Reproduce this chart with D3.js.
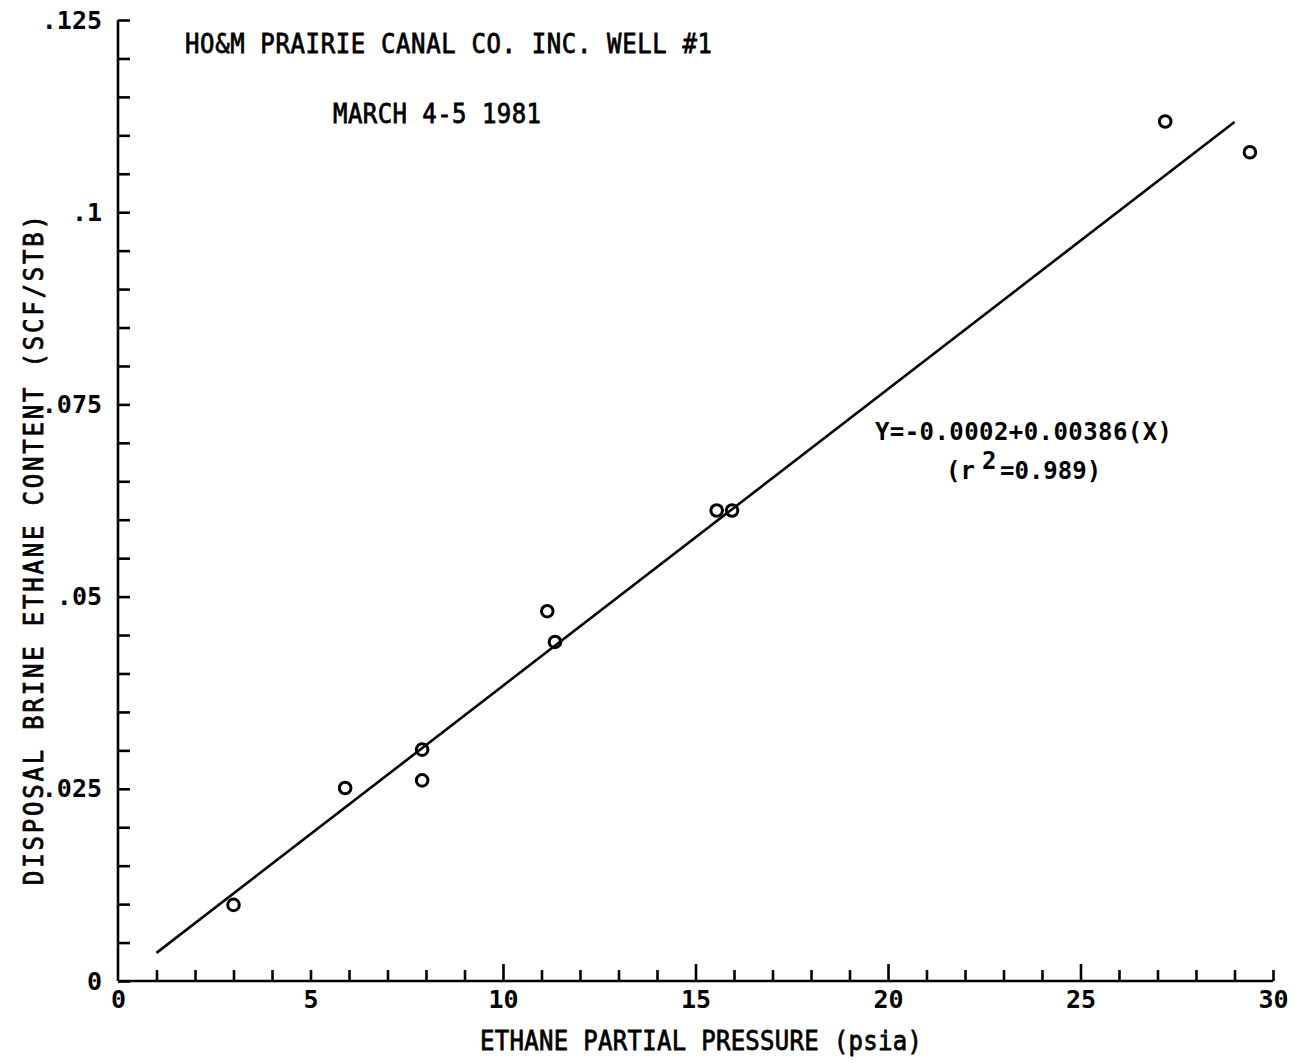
<!DOCTYPE html>
<html>
<head>
<meta charset="utf-8">
<script src="https://cdn.jsdelivr.net/npm/d3@7"></script>
<style>
  html, body { margin: 0; padding: 0; background: #fff; }
  svg { display: block; }
  text { font-family: "DejaVu Sans Mono", "Liberation Mono", monospace; fill: #000; }
</style>
</head>
<body>
<svg id="chart" width="1297" height="1063"></svg>
<script>
// Ethane partial pressure (psia) vs. disposal brine ethane content (SCF/STB)
const pressure = [3.0, 5.9, 7.9, 7.9, 11.15, 11.35, 15.55, 15.95, 27.2, 29.4];
const ethane   = [0.0099, 0.0251, 0.0301, 0.0261, 0.0481, 0.0441, 0.0612, 0.0612, 0.1118, 0.1078];

// Least-squares fit reported on the plot
const fitIntercept = -0.0002;
const fitSlope = 0.00386;
const fitRange = [1, 29];

const xLabelTicks = [0, 5, 10, 15, 20, 25, 30];
const xLabelText  = ["0", "5", "10", "15", "20", "25", "30"];
const yLabelTicks = [0, 0.025, 0.05, 0.075, 0.1, 0.125];
const yLabelText  = ["0", ".025", ".05", ".075", ".1", ".125"];

const titleLines = ["HO&M PRAIRIE CANAL CO. INC. WELL #1", "MARCH 4-5 1981"];
const xTitle = "ETHANE PARTIAL PRESSURE (psia)";
const yTitle = "DISPOSAL BRINE ETHANE CONTENT (SCF/STB)";
const eqText = "Y=-0.0002+0.00386(X)";

const svg = d3.select("#chart");
const x = d3.scaleLinear().domain([0, 30]).range([118, 1273]);
const y = d3.scaleLinear().domain([0, 0.125]).range([981, 20]);

const ink = "#000";
const axisW = 2.6;

// y axis: minor ticks every .005, labelled ticks every .025
const yMinor = d3.range(0, 0.1251, 0.005);
svg.append("g")
  .attr("transform", `translate(${x(0)},0)`)
  .call(d3.axisLeft(y).tickValues(yMinor).tickSize(-12).tickFormat(""))
  .call(g => g.select(".domain").attr("d", `M0,${y(0.125)}V${y(0)}`))
  .call(g => g.selectAll("path,line").attr("stroke", ink).attr("stroke-width", axisW));

svg.append("g")
  .attr("transform", `translate(${x(0)},0)`)
  .call(d3.axisLeft(y).tickValues(yLabelTicks).tickSize(0).tickPadding(16)
        .tickFormat((d, i) => yLabelText[i]))
  .call(g => g.select(".domain").remove())
  .call(g => g.selectAll("text")
        .attr("font-family", "'DejaVu Sans Mono', monospace")
        .attr("font-weight", "bold").attr("font-size", 25).attr("fill", ink));

// x axis: a tick at each unit, longer ticks at the tens and fives
const xMinor = d3.range(1, 31, 1).filter(d => !(d % 5 === 0 && d > 5 && d < 30));
const xMajor = [10, 15, 20, 25];
svg.append("g")
  .attr("transform", `translate(0,${y(0)})`)
  .call(d3.axisBottom(x).tickValues(xMinor).tickSize(-11).tickFormat(""))
  .call(g => g.select(".domain").attr("d", `M${x(0)},0H${x(30)}`))
  .call(g => g.selectAll("path,line").attr("stroke", ink).attr("stroke-width", axisW));
svg.append("g")
  .attr("transform", `translate(0,${y(0)})`)
  .call(d3.axisBottom(x).tickValues(xMajor).tickSize(-17).tickFormat(""))
  .call(g => g.select(".domain").remove())
  .call(g => g.selectAll("line").attr("stroke", ink).attr("stroke-width", axisW));
svg.append("g")
  .attr("transform", `translate(0,${y(0)})`)
  .call(d3.axisBottom(x).tickValues(xLabelTicks).tickSize(0).tickPadding(9)
        .tickFormat((d, i) => xLabelText[i]))
  .call(g => g.select(".domain").remove())
  .call(g => g.selectAll("text")
        .attr("font-family", "'DejaVu Sans Mono', monospace")
        .attr("font-weight", "bold").attr("font-size", 25).attr("fill", ink));

// Regression line
const line = d3.line().x(d => x(d)).y(d => y(fitIntercept + fitSlope * d));
svg.append("path")
  .datum(fitRange)
  .attr("d", line)
  .attr("fill", "none")
  .attr("stroke", ink)
  .attr("stroke-width", 2.6);

// Observations
svg.append("g")
  .selectAll("circle")
  .data(pressure.map((p, i) => [p, ethane[i]]))
  .join("circle")
  .attr("cx", d => x(d[0]))
  .attr("cy", d => y(d[1]))
  .attr("r", 5.8)
  .attr("fill", "none")
  .attr("stroke", ink)
  .attr("stroke-width", 3);

// Plotter-style lettering: slightly tall glyphs with a light outline
function letter(sel) {
  return sel.attr("stroke", ink).attr("stroke-width", 0.7);
}

// Titles
letter(svg.append("text")
  .attr("transform", "translate(185,53) scale(1,1.12)")
  .attr("font-size", 24)
  .attr("textLength", 527).attr("lengthAdjust", "spacing")
  .text(titleLines[0]));
letter(svg.append("text")
  .attr("transform", "translate(333,123) scale(1,1.12)")
  .attr("font-size", 24)
  .attr("textLength", 208).attr("lengthAdjust", "spacing")
  .text(titleLines[1]));

// Fit equation
svg.append("text")
  .attr("x", 875).attr("y", 440)
  .attr("font-size", 24).attr("font-weight", "bold")
  .attr("textLength", 297).attr("lengthAdjust", "spacing")
  .text(eqText);
const r2 = svg.append("text")
  .attr("x", 946).attr("y", 479)
  .attr("font-size", 24).attr("font-weight", "bold");
r2.append("tspan").text("(r");
r2.append("tspan").attr("x", 982).attr("y", 469).text("2");
r2.append("tspan").attr("x", 1000).attr("y", 479).text("=0.989)");

// Axis titles
letter(svg.append("text")
  .attr("transform", "translate(701,1050) scale(1,1.12)")
  .attr("text-anchor", "middle")
  .attr("font-size", 24)
  .attr("textLength", 442).attr("lengthAdjust", "spacing")
  .text(xTitle));
letter(svg.append("text")
  .attr("transform", "translate(43,550) rotate(-90) scale(1,1.12)")
  .attr("text-anchor", "middle")
  .attr("font-size", 24)
  .attr("textLength", 670).attr("lengthAdjust", "spacing")
  .text(yTitle));
</script>
</body>
</html>
